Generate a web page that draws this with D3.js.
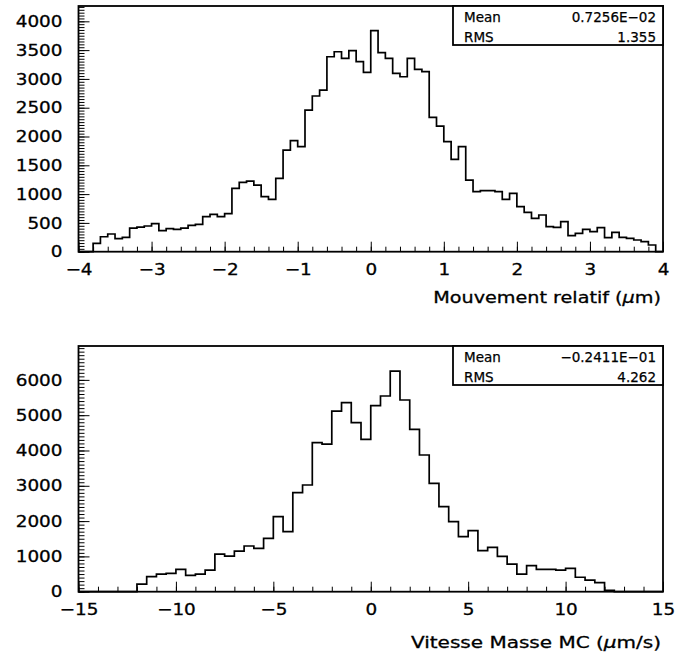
<!DOCTYPE html>
<html><head><meta charset="utf-8">
<script src="https://cdn.jsdelivr.net/npm/d3@7"></script>
<style>
body{margin:0;background:#fff}
svg{display:block}
text{font-family:"DejaVu Sans",sans-serif;fill:#000}
</style>
</head><body>
<svg id="c" width="675" height="653"></svg>
<script>
// ---------- DATA ----------
const topCounts = [0,0,145,260,307,226,249,411,428,446,
  486,365,399,388,411,457,475,608,648,608,
  660,1100,1204,1227,1157,955,909,1273,1765,1927,
  1823,2459,2703,2807,3385,3472,3356,3490,3299,3113,
  3837,3455,3356,3096,3038,3356,3166,3125,2332,2182,
  1910,1603,1823,1244,1042,1059,1059,1042,909,1013,
  781,683,579,637,434,422,521,278,318,388,
  347,417,243,336,249,231,203,174,116,0];
const topRange = [-4, 4];
const topXTicks = [-4,-3,-2,-1,0,1,2,3,4];
const topYTicks = [0,500,1000,1500,2000,2500,3000,3500,4000];
const topStatLabels = ["Mean","RMS"];
const topStatValues = ["0.7256E\u221202","1.355"];
const topTitle = ["Mouvement relatif (", "\u03bc", "m)"];

const botCounts = [0,0,0,0,0,0,217,425,500,519,
  633,463,500,614,1067,1010,1152,1294,1228,1511,
  2125,1700,2805,3022,4221,4183,5118,5354,4788,4315,
  5269,5543,6251,5430,4599,3872,3069,2408,1983,1558,
  1728,1161,1256,1000,780,500,740,630,630,610,
  660,410,330,255,40,0,0,0,0,0];
const botRange = [-15, 15];
const botXTicks = [-15,-10,-5,0,5,10,15];
const botYTicks = [0,1000,2000,3000,4000,5000,6000];
const botStatLabels = ["Mean","RMS"];
const botStatValues = ["\u22120.2411E\u221201","4.262"];
const botTitle = ["Vitesse Masse MC (", "\u03bc", "m/s)"];

// ---------- DRAW ----------
const svg = d3.select("#c");
const L = 78.5, R = 663;
const SX = 1.15;          // horizontal stretch of the wide plotting font
const fmt = d => (d < 0 ? "\u2212" + Math.abs(d) : String(d));

function panel(cfg){
  const g = svg.append("g");
  const x = d3.scaleLinear().domain(cfg.range).range([L, R]);
  const y = d3.scaleLinear().domain([0, cfg.ymax]).range([cfg.bottom, cfg.top]);
  const n = cfg.counts.length;
  const bw = (cfg.range[1]-cfg.range[0]) / n;

  // minor ticks x
  g.append("g").attr("transform",`translate(0,${cfg.bottom})`)
    .call(d3.axisBottom(x).tickValues(d3.range(cfg.range[0], cfg.range[1]+1e-9, cfg.xMinor)).tickSize(-5).tickFormat(""))
    .call(a=>a.select(".domain").remove())
    .call(a=>a.selectAll("line").attr("stroke","#000").attr("stroke-width",1));
  // major ticks x
  g.append("g").attr("transform",`translate(0,${cfg.bottom})`)
    .call(d3.axisBottom(x).tickValues(cfg.xTicks).tickSize(-10).tickPadding(12).tickFormat(fmt))
    .call(a=>a.select(".domain").remove())
    .call(a=>a.selectAll("line").attr("stroke","#000").attr("stroke-width",1))
    .call(a=>a.selectAll("text").attr("font-size",16).attr("font-family","DejaVu Sans")
      .attr("transform",`scale(${SX},1)`).attr("stroke","#000").attr("stroke-width",0.3));
  // minor ticks y
  g.append("g").attr("transform",`translate(${L},0)`)
    .call(d3.axisLeft(y).tickValues(d3.range(0, cfg.ymax, cfg.yMinor)).tickSize(-6).tickFormat(""))
    .call(a=>a.select(".domain").remove())
    .call(a=>a.selectAll("line").attr("stroke","#000").attr("stroke-width",1));
  // major ticks y
  g.append("g").attr("transform",`translate(${L},0)`)
    .call(d3.axisLeft(y).tickValues(cfg.yTicks).tickSize(-11).tickPadding(16).tickFormat(d=>String(d)))
    .call(a=>a.select(".domain").remove())
    .call(a=>a.selectAll("line").attr("stroke","#000").attr("stroke-width",1))
    .call(a=>a.selectAll("text").attr("font-size",16).attr("font-family","DejaVu Sans")
      .attr("x", -16/SX).attr("transform",`scale(${SX},1)`).attr("stroke","#000").attr("stroke-width",0.3));

  // histogram
  const pts = [[x(cfg.range[0]), y(0)]];
  cfg.counts.forEach((c,i)=>{
    const a = cfg.range[0] + i*bw, b = a + bw;
    pts.push([x(a), y(c)], [x(b), y(c)]);
  });
  pts.push([x(cfg.range[1]), y(0)]);
  g.append("path").attr("d", d3.line()(pts)).attr("fill","none")
    .attr("stroke","#000").attr("stroke-width",1.7);

  // frame
  g.append("rect").attr("x",L).attr("y",cfg.top).attr("width",R-L).attr("height",cfg.bottom-cfg.top)
    .attr("fill","none").attr("stroke","#000").attr("stroke-width",1.8);

  // stat box
  const bx = 453, bh = cfg.boxH;
  g.append("rect").attr("x",bx).attr("y",cfg.top).attr("width",R-bx).attr("height",bh)
    .attr("fill","#fff").attr("stroke","#000").attr("stroke-width",1.8);
  cfg.statLabels.forEach((s,i)=>{
    const yy = cfg.top + 16 + i*20;
    g.append("text").attr("x",bx+11).attr("y",yy).attr("font-size",13.5)
      .attr("stroke","#000").attr("stroke-width",0.25).text(s);
    g.append("text").attr("x",R-7).attr("y",yy).attr("font-size",13.5).attr("text-anchor","end")
      .attr("stroke","#000").attr("stroke-width",0.25).text(cfg.statValues[i]);
  });

  // axis title (stretched)
  const tg = g.append("g").attr("transform",`translate(${R-2},${cfg.titleY}) scale(${cfg.titleSX},1)`);
  const t = tg.append("text").attr("x",0).attr("y",0).attr("font-size",16).attr("text-anchor","end")
    .attr("stroke","#000").attr("stroke-width",0.3);
  t.append("tspan").text(cfg.title[0]);
  t.append("tspan").attr("font-style","italic").text(cfg.title[1]);
  t.append("tspan").text(cfg.title[2]);
}

panel({counts: topCounts, range: topRange, xTicks: topXTicks, yTicks: topYTicks,
  xMinor: 0.2, yMinor: 50, ymax: 4266, top: 6, bottom: 251.7, boxH: 39,
  statLabels: topStatLabels, statValues: topStatValues, title: topTitle, titleY: 303, titleSX: 1.2});
panel({counts: botCounts, range: botRange, xTicks: botXTicks, yTicks: botYTicks,
  xMinor: 1, yMinor: 100, ymax: 6960, top: 346, bottom: 591.7, boxH: 39,
  statLabels: botStatLabels, statValues: botStatValues, title: botTitle, titleY: 648, titleSX: 1.25});
</script>
</body></html>
